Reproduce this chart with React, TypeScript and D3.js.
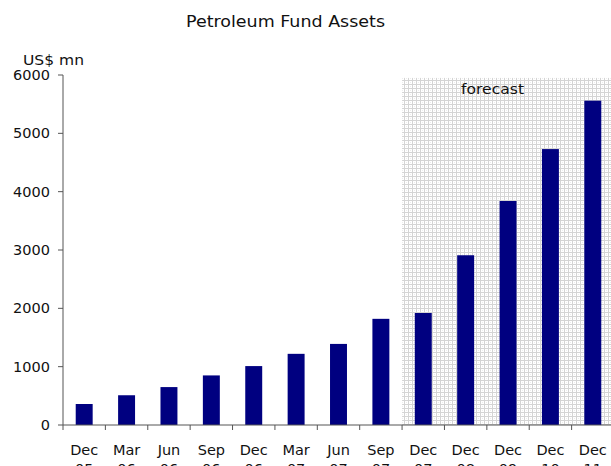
import React from "react";
import * as d3 from "d3";

const categories = ["Dec 05", "Mar 06", "Jun 06", "Sep 06", "Dec 06", "Mar 07", "Jun 07", "Sep 07", "Dec 07", "Dec 08", "Dec 09", "Dec 10", "Dec 11"];
const values = [360, 510, 650, 850, 1010, 1220, 1390, 1820, 1920, 2910, 3840, 4730, 5560];
const yTicks = [0, 1000, 2000, 3000, 4000, 5000, 6000];
const forecastStart = "Dec 07";
const title = "Petroleum Fund Assets";
const yLabel = "US$ mn";

export default function App() {
  const W = 611, H = 466;
  const left = 63, right = 614, top = 75, bottom = 425;
  const x = d3.scaleBand().domain(categories).range([left, right]).paddingInner(0).paddingOuter(0);
  const y = d3.scaleLinear().domain([0, 6000]).range([bottom, top]);
  const bw = x.bandwidth();
  const barW = bw * 0.4;
  const font = "'DejaVu Sans', Verdana, sans-serif";
  const fx = (x(forecastStart) as number) - bw / 2 + 1;
  return (
    <svg width={W} height={H} style={{ position: "absolute", left: 0, top: 0, display: "block" }}>
      <defs>
        <pattern id="dots" width={4} height={4} patternUnits="userSpaceOnUse" x={0} y={0}>
          <rect width={4} height={4} fill="#ffffff" />
          <rect x={0} y={0} width={4} height={1} fill="#d4d4d4" />
          <rect x={0} y={0} width={1} height={4} fill="#d4d4d4" />
          <rect x={2} y={2} width={1} height={1} fill="#ececec" />
        </pattern>
      </defs>
      <rect x={0} y={0} width={W} height={H} fill="#fff" />
      <rect x={fx + bw / 2 - 1} y={y(5950)} width={W - fx} height={bottom - y(5950)} fill="url(#dots)" />
      <text x={461} y={94} fontFamily={font} fontSize={14.5} textLength={63} lengthAdjust="spacingAndGlyphs" fill="#111">forecast</text>
      <text x={186} y={27} fontFamily={font} fontSize={16} textLength={199} lengthAdjust="spacingAndGlyphs" fill="#111">{title}</text>
      <text x={23} y={65} fontFamily={font} fontSize={14.5} textLength={61} lengthAdjust="spacingAndGlyphs" fill="#111">{yLabel}</text>
      {categories.map((c, i) => (
        <rect key={c} x={(x(c) as number) + (bw - barW) / 2} y={y(values[i])} width={barW} height={bottom - y(values[i])} fill="#000080" />
      ))}
      <line x1={left} x2={left} y1={top} y2={bottom} stroke="#555" />
      <line x1={left} x2={right} y1={bottom} y2={bottom} stroke="#555" />
      {yTicks.map((t) => (
        <g key={t}>
          <line x1={left - 5} x2={left} y1={y(t)} y2={y(t)} stroke="#555" />
          <text x={left - 13} y={y(t) + 5} fontFamily={font} fontSize={14.5} textAnchor="end" fill="#111">{t}</text>
        </g>
      ))}
      {categories.map((c) => (
        <line key={"t" + c} x1={x(c) as number} x2={x(c) as number} y1={bottom} y2={bottom + 5} stroke="#555" />
      ))}
      {categories.map((c) => {
        const [a, b] = c.split(" ");
        const cx = (x(c) as number) + bw / 2;
        return (
          <text key={"l" + c} x={cx} fontFamily={font} fontSize={14.5} textAnchor="middle" fill="#111">
            <tspan x={cx} y={455}>{a}</tspan>
            <tspan x={cx} y={474}>{b}</tspan>
          </text>
        );
      })}
    </svg>
  );
}
